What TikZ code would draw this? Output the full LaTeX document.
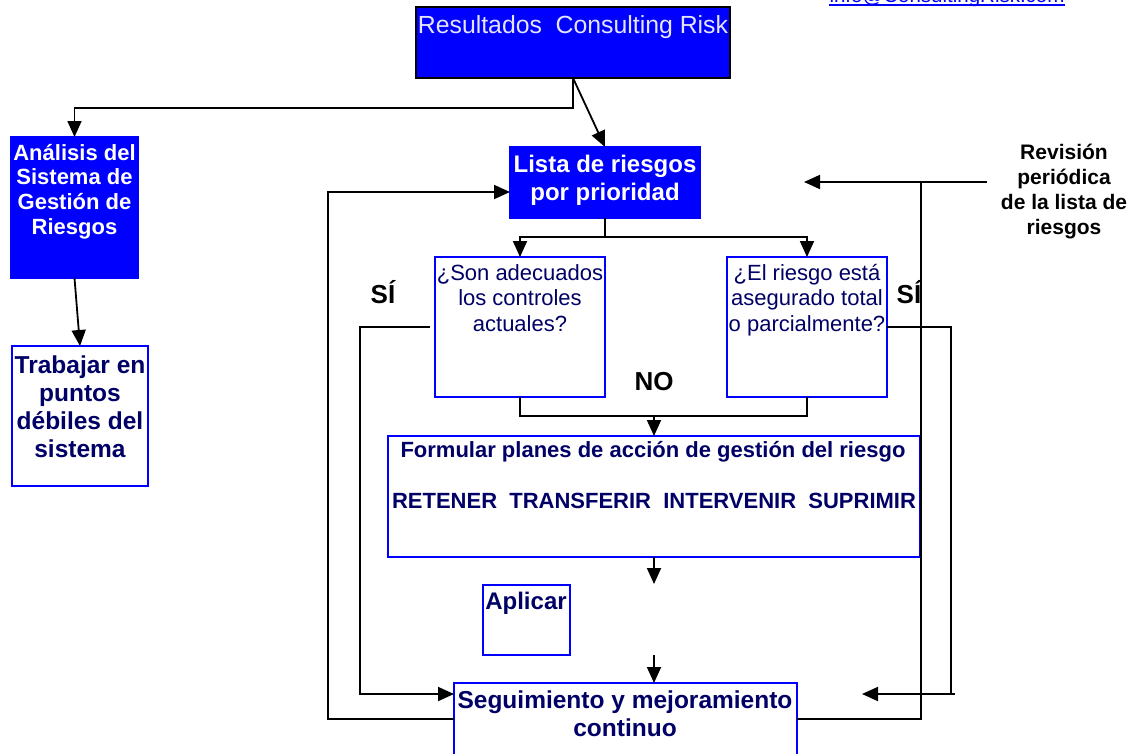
\documentclass[tikz,border=0pt]{standalone}
\usepackage{fontspec}
\setmainfont{Liberation Sans}
\usetikzlibrary{arrows.meta,calc}
\definecolor{pblue}{RGB}{0,0,255}
\definecolor{navy}{RGB}{0,0,102}
\definecolor{pale}{RGB}{228,228,250}
\begin{document}
\begin{tikzpicture}[x=1pt,y=-1pt,
  box/.style={draw=pblue, line width=2pt, inner sep=0pt, outer sep=0pt, anchor=north west, rectangle},
  fillbox/.style={box, fill=pblue},
  conn/.style={draw=black, line width=1.8pt},
  arr/.style={conn, -{Triangle[length=16pt,width=14pt]}},
  txt/.style={anchor=north, align=center, inner sep=0pt},
  one/.style={anchor=base, inner sep=0pt},
]
\useasboundingbox (0,0) rectangle (1141,753);
\clip (0,0) rectangle (1141,753);
\fill[white] (0,0) rectangle (1141,753);

% boxes
\node[fillbox, draw=black, minimum width=314pt, minimum height=71pt] (res) at (416,7) {};
\node[fillbox, minimum width=127pt, minimum height=141pt] (ana) at (11,137) {};
\node[box, minimum width=136pt, minimum height=140pt] (tra) at (12,346) {};
\node[fillbox, minimum width=190pt, minimum height=71pt] (lista) at (510,147) {};
\node[box, minimum width=170pt, minimum height=140pt] (son) at (435,257) {};
\node[box, minimum width=160pt, minimum height=140pt] (el) at (727,257) {};
\node[box, minimum width=532pt, minimum height=121pt] (form) at (388,436) {};
\node[box, minimum width=87pt, minimum height=70pt] (apl) at (483,585) {};
\node[box, minimum width=343pt, minimum height=90pt] (seg) at (454,683) {};

% texts
\node[one, text=pale, font=\fontsize{24.8}{28}\selectfont] (restxt) at (573,33) {Resultados\ \ Consulting Risk};
\node[one, text=pblue, font=\fontsize{20.5}{24}\selectfont] (email) at (947,2) {info@ConsultingRisk.com};
\draw[pblue, line width=1.5pt] ($(email.base west)+(0,3)$) -- ($(email.base east)+(0,3)$);
\node[txt, text=white, font=\fontsize{24}{28}\selectfont\bfseries] (listatxt) at (605,152.4) {\strut Lista de riesgos\\por prioridad};
\node[txt, text=white, font=\fontsize{22}{24.7}\selectfont\bfseries] (anatxt) at (74.5,142.7) {\strut Análisis del\\Sistema de\\Gestión de\\Riesgos};
\node[txt, text=navy, font=\fontsize{24.5}{28}\selectfont\bfseries] (tratxt) at (80,354) {\strut Trabajar en\\puntos\\débiles del\\sistema};
\node[txt, text=navy, font=\fontsize{22}{25.5}\selectfont] (sontxt) at (520,262) {\strut ¿Son adecuados\\los controles\\actuales?};
\node[txt, text=navy, font=\fontsize{22}{25.5}\selectfont] (eltxt) at (807,262) {\strut ¿El riesgo está\\asegurado total\\o parcialmente?};
\node[one, text=navy, font=\fontsize{22}{26}\selectfont\bfseries] (form1) at (653,457) {Formular planes de acción de gestión del riesgo};
\node[one, text=navy, font=\fontsize{22}{26}\selectfont\bfseries] (form2) at (654,508) {RETENER\ \ TRANSFERIR\ \ INTERVENIR\ \ SUPRIMIR};
\node[one, text=navy, font=\fontsize{24}{28}\selectfont\bfseries] (apltxt) at (526,609) {Aplicar};
\node[txt, text=navy, font=\fontsize{24.5}{28}\selectfont\bfseries] (segtxt) at (625,688.4) {\strut Seguimiento y mejoramiento\\continuo};
\node[txt, text=black, font=\fontsize{21}{25}\selectfont\bfseries] (rev) at (1064,141.5) {\strut Revisión\\periódica\\de la lista de\\riesgos};
\node[one, font=\fontsize{26}{30}\selectfont\bfseries] (no) at (654,390) {NO};
\node[one, font=\fontsize{26}{30}\selectfont\bfseries] (siL) at (383,303) {SÍ};
\node[one, font=\fontsize{26}{30}\selectfont\bfseries] (siR) at (909,303) {SÍ};

% coordinates
\coordinate (j1) at (573,108);
\coordinate (j2) at (605,237);
\coordinate (j3) at (654,416);
\coordinate (a1) at (654,584);
\coordinate (a2) at (654,655);
\coordinate (sL) at (360,694);
\coordinate (sR) at (951,694);
\coordinate (sRe) at (955,694);
\coordinate (sRt) at (862,694);
\coordinate (lL1) at (328,719);
\coordinate (lL2) at (328,192);
\coordinate (rL1) at (921,719);
\coordinate (rL2) at (921,182);
\coordinate (rT) at (987,182);
\coordinate (rA) at (804,182);

% connectors
\draw[arr] (res.south) -- (j1) -| (ana.north);
\draw[arr] (res.south) -- (lista.north);
\draw[arr] (ana.south) -- (tra.north);
\draw[arr] (lista.south) -- (j2) -| (son.north);
\draw[arr] (j2) -| (el.north);
\draw[conn] (son.south) |- (j3) -| (el.south);
\draw[arr] (j3) -- (form.north);
\draw[arr] (form.south) -- (a1);
\draw[arr] (a2) -- (a2 |- seg.north);
\draw[arr] ([xshift=-5pt]son.west) -| (sL) -- (sL -| seg.west);
\draw[conn] (el.east) -| (sR);
\draw[arr] (sRe) -- (sRt);
\draw[arr] (seg.west |- lL1) -- (lL1) -- (lL2) -- (lL2 -| lista.west);
\draw[conn] (seg.east |- rL1) -- (rL1) -- (rL2);
\draw[arr] (rT) -- (rA);
\end{tikzpicture}
\end{document}
